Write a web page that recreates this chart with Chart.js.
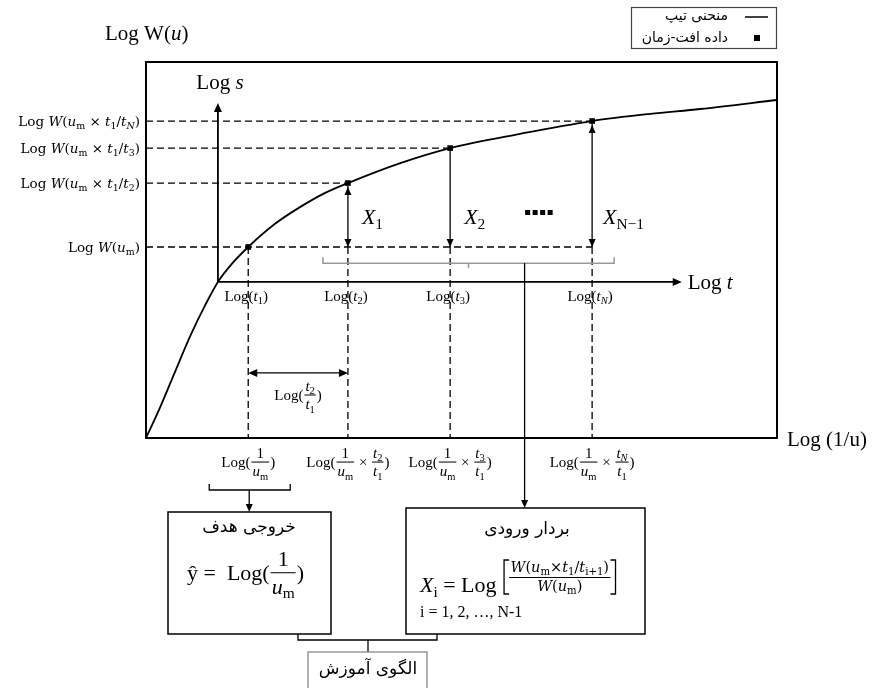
<!DOCTYPE html>
<html>
<head>
<meta charset="utf-8">
<script src="https://cdn.jsdelivr.net/npm/chart.js@4.4.0/dist/chart.umd.min.js"></script>
<style>
html,body{margin:0;padding:0;background:#fff;}
canvas{display:block;}
</style>
</head>
<body>
<canvas id="c" width="874" height="688"></canvas>
<script>
"use strict";

// type curve (schematic log units, 0..10 on both axes)
const curveX = [0, 0.22, 0.46, 0.70, 0.94, 1.14, 1.36, 1.62, 2.04, 2.44, 2.84, 3.20, 4.03, 4.82, 5.93, 7.07, 7.99, 8.78, 10];
const curveY = [0, 0.80, 1.76, 2.71, 3.54, 4.15, 4.63, 5.08, 5.69, 6.14, 6.52, 6.78, 7.31, 7.71, 8.09, 8.43, 8.62, 8.75, 8.99];
// drawdown-time data on the curve
const pointX = [1.62, 3.20, 4.82, 7.07];
const pointY = [5.08, 6.78, 7.71, 8.43];
const timeSub = ['1', '2', '3', 'N'];
const gapSub = ['', '1', '2', 'N\u22121'];
const seriesNames = ['منحنی تیپ', 'داده افت-زمان'];
// inner Log s / Log t axes
const originX = 1.14, originY = 4.15, sTop = 8.91, tEnd = 8.49;

const SERIF = '"Liberation Serif", "DejaVu Serif", serif';
const MATH = '"DejaVu Serif", serif';
const FA = '"DejaVu Sans", sans-serif';

function runFont(r, size, fam){
  return (r.it ? 'italic ' : '') + (r.sub ? size * 0.7 : size) + 'px ' + (fam || SERIF);
}
function fracWidth(ctx, r, size, fam){
  const fs = size * (r.scale || 1);
  return Math.max(runsWidth(ctx, r.n, fs, fam), runsWidth(ctx, r.d, fs, fam)) + 4;
}
function runsWidth(ctx, runs, size, fam){
  let w = 0;
  for (const r of runs){
    if (r.n){ w += fracWidth(ctx, r, size, fam); continue; }
    ctx.font = runFont(r, size, fam);
    w += ctx.measureText(r.t).width;
  }
  return w;
}
function drawRuns(ctx, runs, x, y, size, align, fam){
  const w = runsWidth(ctx, runs, size, fam);
  let cx = align === 'center' ? x - w / 2 : align === 'right' ? x - w : x;
  for (const r of runs){
    ctx.textAlign = 'left';
    ctx.textBaseline = 'alphabetic';
    if (r.n){
      const fs = size * (r.scale || 1);
      const fw = fracWidth(ctx, r, size, fam);
      const barY = y - size * 0.33;
      drawRuns(ctx, r.n, cx + fw / 2, barY - fs * 0.3, fs, 'center', fam);
      drawRuns(ctx, r.d, cx + fw / 2, barY + fs * 0.95, fs, 'center', fam);
      ctx.fillRect(cx + 1, barY - 0.5, fw - 2, 1);
      cx += fw;
      continue;
    }
    ctx.font = runFont(r, size, fam);
    ctx.fillText(r.t, cx, r.sub ? y + size * 0.22 : y);
    cx += ctx.measureText(r.t).width;
  }
  return w;
}
function line(ctx, x1, y1, x2, y2){
  ctx.beginPath(); ctx.moveTo(x1, y1); ctx.lineTo(x2, y2); ctx.stroke();
}
function arrowHead(ctx, x, y, dx, dy, len, half){
  len = len || 8; half = half || 3.5;
  const n = Math.hypot(dx, dy); dx /= n; dy /= n;
  ctx.beginPath();
  ctx.moveTo(x, y);
  ctx.lineTo(x - dx * len - dy * half, y - dy * len + dx * half);
  ctx.lineTo(x - dx * len + dy * half, y - dy * len - dx * half);
  ctx.closePath(); ctx.fill();
}
function faText(ctx, t, x, y, size, align){
  ctx.save();
  ctx.direction = 'rtl';
  ctx.font = size + 'px ' + FA;
  ctx.textAlign = align;
  ctx.textBaseline = 'middle';
  ctx.fillText(t, x, y);
  ctx.restore();
}

const um = [{t: 'u', it: 1}, {t: 'm', sub: 1}];
const tk = k => [{t: 't', it: 1}, {t: k, sub: 1, it: k === 'N'}];

const guides = {
  id: 'guides',
  beforeDatasetsDraw(chart){
    const {ctx, chartArea: a, scales: {x, y}} = chart;
    const X = v => x.getPixelForValue(v), Y = v => y.getPixelForValue(v);
    const yBase = Y(pointY[0]);
    ctx.save();
    ctx.strokeStyle = '#000'; ctx.fillStyle = '#000';
    ctx.setLineDash([7, 4]); ctx.lineWidth = 1.3;
    pointX.forEach((v, i) => {
      const xe = i === 0 ? X(pointX[pointX.length - 1]) : X(v);
      line(ctx, a.left, Y(pointY[i]), xe, Y(pointY[i]));
      line(ctx, X(v), yBase, X(v), a.bottom);
    });
    ctx.setLineDash([]);
    // X arrows between the points and Log W(um)
    ctx.lineWidth = 1.3;
    for (let i = 1; i < pointX.length; i++){
      const px = X(pointX[i]);
      line(ctx, px, Y(pointY[i]) + 3, px, yBase);
      arrowHead(ctx, px, yBase, 0, 1, 8, 3.5);
      if (i !== 2) arrowHead(ctx, px, Y(pointY[i]) + 4, 0, -1, 8, 3.5);
    }
    // inner axes
    ctx.lineWidth = 1.8;
    line(ctx, X(originX), Y(originY), X(originX), Y(sTop) + 6);
    arrowHead(ctx, X(originX), Y(sTop), 0, -1, 9, 4);
    line(ctx, X(originX), Y(originY), X(tEnd) - 6, Y(originY));
    arrowHead(ctx, X(tEnd), Y(originY), 1, 0, 9, 4);
    // Log(t2/t1) double arrow
    ctx.lineWidth = 1.2;
    const ya = Y(1.73);
    line(ctx, X(pointX[0]) + 4, ya, X(pointX[1]) - 4, ya);
    arrowHead(ctx, X(pointX[0]), ya, -1, 0, 9, 4);
    arrowHead(ctx, X(pointX[1]), ya, 1, 0, 9, 4);
    // gray brace over the X values
    ctx.strokeStyle = '#999'; ctx.lineWidth = 1.5;
    const by = Y(4.65), bl = X(pointX[1]) - 25, br = X(pointX[3]) + 22;
    ctx.beginPath();
    ctx.moveTo(bl, by - 6); ctx.lineTo(bl, by); ctx.lineTo(br, by); ctx.lineTo(br, by - 6);
    ctx.stroke();
    line(ctx, (bl + br) / 2, by, (bl + br) / 2, by + 5);
    ctx.restore();
  },
  afterDatasetsDraw(chart){
    const {ctx, chartArea: a, scales: {x, y}} = chart;
    const X = v => x.getPixelForValue(v), Y = v => y.getPixelForValue(v);
    ctx.save();
    ctx.strokeStyle = '#000'; ctx.fillStyle = '#000';
    ctx.lineWidth = 2;
    ctx.strokeRect(a.left, a.top, a.width, a.height);

    // left labels
    pointY.forEach((v, i) => {
      let runs = [{t: 'Log '}, {t: 'W', it: 1}, {t: '('}].concat(um);
      if (i > 0) runs = runs.concat([{t: ' \u00d7 '}], tk('1'), [{t: '/'}], tk(timeSub[i]));
      runs.push({t: ')'});
      drawRuns(ctx, runs, a.left - 6, Y(v) + 5, 13.5, 'right', MATH);
    });
    // Log(t) labels under the inner axis
    pointX.forEach((v, i) => {
      drawRuns(ctx, [{t: 'Log('}].concat(tk(timeSub[i]), [{t: ')'}]), X(v) - 2, Y(originY) + 19, 15, 'center');
    });
    // Log(1/um x ti/t1) labels under the frame
    pointX.forEach((v, i) => {
      let runs = [{t: 'Log('}, {n: [{t: '1'}], d: um}];
      if (i > 0) runs = runs.concat([{t: ' \u00d7 '}, {n: tk(timeSub[i]), d: tk('1')}]);
      runs.push({t: ')'});
      drawRuns(ctx, runs, X(v), a.bottom + 29, 15, 'center');
    });
    // Log(t2/t1)
    drawRuns(ctx, [{t: 'Log('}, {n: tk('2'), d: tk('1')}, {t: ')'}], (X(pointX[0]) + X(pointX[1])) / 2, Y(1.73) + 27, 15, 'center');

    // axis titles
    drawRuns(ctx, [{t: 'Log W('}, {t: 'u', it: 1}, {t: ')'}], 105, 40, 21, 'left');
    drawRuns(ctx, [{t: 'Log '}, {t: 's', it: 1}], X(originX) + 2, 89, 21, 'center');
    drawRuns(ctx, [{t: 'Log '}, {t: 't', it: 1}], X(tEnd) + 6, Y(originY) + 7, 21, 'left');
    drawRuns(ctx, [{t: 'Log (1/u)'}], a.right + 10, a.bottom + 8, 21, 'left');

    // X labels
    for (let i = 1; i < pointX.length; i++){
      drawRuns(ctx, [{t: 'X', it: 1}, {t: gapSub[i], sub: 1}], X(pointX[i]) + (i === 3 ? 11 : 14), Y(pointY[0]) - 23, 22, 'left');
    }
    for (let k = 0; k < 4; k++) ctx.fillRect(X(pointX[2]) + 75 + k * 7.5, Y(pointY[0]) - 37, 5, 5);

    // brace under Log(1/um) and arrow into the target box
    ctx.lineWidth = 1.3;
    const bx = X(pointX[0]);
    ctx.beginPath();
    ctx.moveTo(bx - 39, 484); ctx.lineTo(bx - 39, 490); ctx.lineTo(bx + 42, 490); ctx.lineTo(bx + 42, 484);
    ctx.stroke();
    line(ctx, bx + 1, 490, bx + 1, 505);
    arrowHead(ctx, bx + 1, 512, 0, 1, 8, 3.5);
    // long arrow from the gray brace into the input box
    const ax = X(6.0);
    line(ctx, ax, Y(4.65), ax, 502);
    arrowHead(ctx, ax, 508, 0, 1, 8, 3.5);

    // target box
    ctx.lineWidth = 1.5;
    ctx.strokeRect(168, 512, 163, 122);
    faText(ctx, 'خروجی هدف', 249, 528, 17, 'center');
    drawRuns(ctx, [{t: '\u0177 =  Log('}, {n: [{t: '1'}], d: um}, {t: ')'}], 187, 580, 22, 'left');

    // input box
    ctx.strokeRect(406, 508, 239, 126);
    faText(ctx, 'بردار ورودی', 527, 530, 17, 'center');
    const w1 = drawRuns(ctx, [{t: 'X', it: 1}, {t: 'i', sub: 1}, {t: ' = Log '}], 420, 592, 22, 'left');
    const numRuns = [{t: 'W', it: 1}, {t: '('}].concat(um, [{t: '\u00d7'}], tk('1'), [{t: '/'}, {t: 't', it: 1}, {t: 'i+1', sub: 1}, {t: ')'}]);
    const denRuns = [{t: 'W', it: 1}, {t: '('}].concat(um, [{t: ')'}]);
    const x0 = 420 + w1 + 2;
    const fw = Math.max(runsWidth(ctx, numRuns, 14.5, MATH), runsWidth(ctx, denRuns, 14.5, MATH)) + 4;
    ctx.lineWidth = 1.3;
    ctx.beginPath();
    ctx.moveTo(x0 + 5, 560); ctx.lineTo(x0, 560); ctx.lineTo(x0, 594); ctx.lineTo(x0 + 5, 594);
    ctx.moveTo(x0 + fw + 4, 560); ctx.lineTo(x0 + fw + 9, 560); ctx.lineTo(x0 + fw + 9, 594); ctx.lineTo(x0 + fw + 4, 594);
    ctx.stroke();
    drawRuns(ctx, numRuns, x0 + 4.5 + fw / 2, 572, 14.5, 'center', MATH);
    ctx.fillRect(x0 + 5, 577, fw - 1, 1);
    drawRuns(ctx, denRuns, x0 + 4.5 + fw / 2, 591, 14.5, 'center', MATH);
    drawRuns(ctx, [{t: 'i = 1, 2, \u2026, N-1'}], 420, 617, 16, 'left');

    // bracket joining both boxes into the training pattern
    ctx.lineWidth = 1.3;
    ctx.beginPath();
    ctx.moveTo(298, 634); ctx.lineTo(298, 640); ctx.lineTo(437, 640); ctx.lineTo(437, 634);
    ctx.stroke();
    line(ctx, 368, 640, 368, 652);
    ctx.strokeStyle = '#888';
    ctx.strokeRect(308, 652, 119, 40);
    faText(ctx, 'الگوی آموزش', 368, 670, 17, 'center');

    // legend
    ctx.strokeStyle = '#444'; ctx.lineWidth = 1.2;
    ctx.strokeRect(631.5, 7.5, 145, 41);
    const ds = chart.data.datasets;
    ctx.strokeStyle = '#000'; ctx.lineWidth = 1.5;
    line(ctx, 745, 17, 768, 17);
    faText(ctx, ds[0].label, 728, 16, 14, 'right');
    ctx.fillRect(754, 35, 6, 6);
    faText(ctx, ds[1].label, 728, 38, 14, 'right');
    ctx.restore();
  }
};

new Chart(document.getElementById('c'), {
  type: 'scatter',
  data: {
    datasets: [{
      label: seriesNames[0],
      data: curveX.map((v, i) => ({x: v, y: curveY[i]})),
      showLine: true,
      borderColor: '#000',
      borderWidth: 1.8,
      pointRadius: 0,
      cubicInterpolationMode: 'monotone'
    }, {
      label: seriesNames[1],
      data: pointX.map((v, i) => ({x: v, y: pointY[i]})),
      pointStyle: 'rect',
      pointRadius: 4,
      backgroundColor: '#000',
      borderColor: '#000',
      borderWidth: 0
    }]
  },
  options: {
    responsive: false,
    animation: false,
    devicePixelRatio: 1,
    layout: {padding: {left: 146, top: 62, right: 97, bottom: 250}},
    scales: {
      x: {type: 'linear', min: 0, max: 10, display: false},
      y: {type: 'linear', min: 0, max: 10, display: false}
    },
    plugins: {legend: {display: false}, tooltip: {enabled: false}}
  },
  plugins: [guides]
});
</script>
</body>
</html>
